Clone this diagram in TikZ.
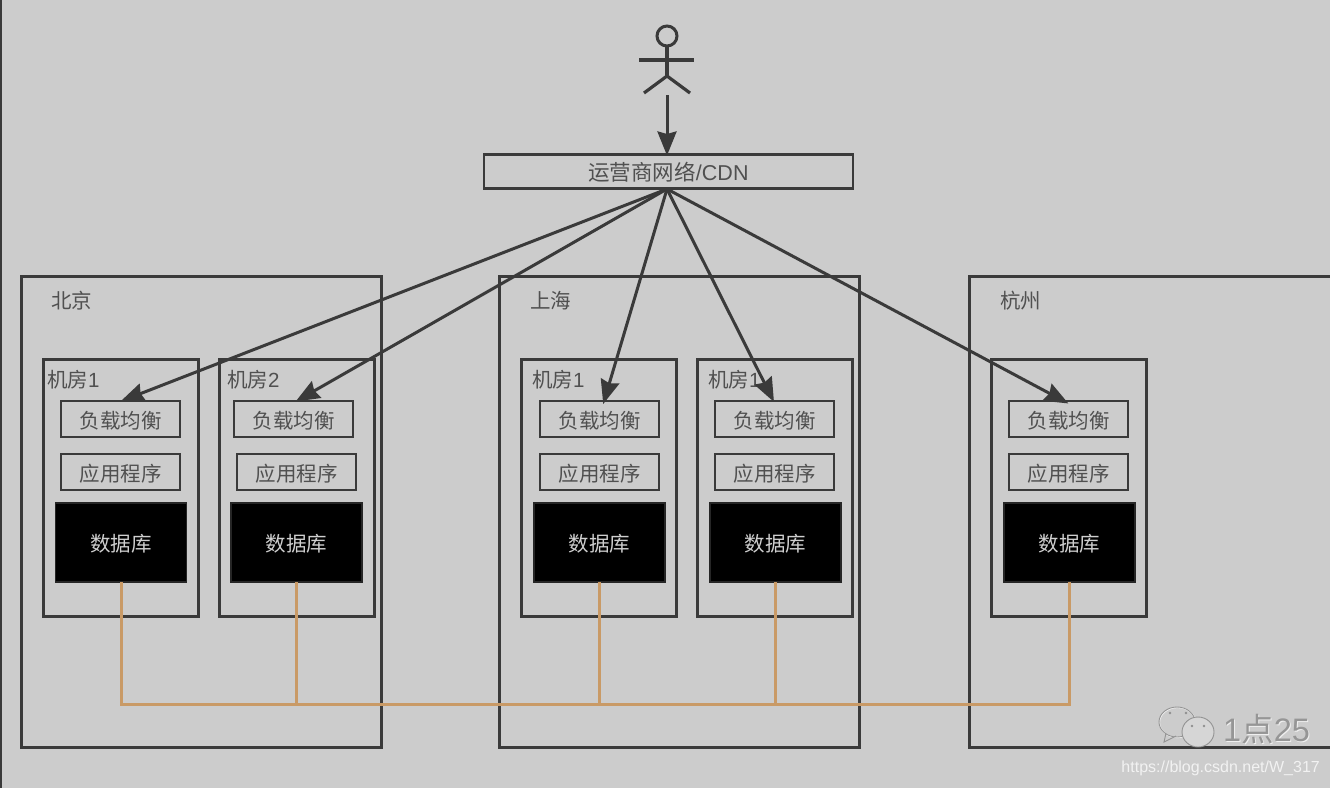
\documentclass[tikz,border=0pt]{standalone}
\usepackage{fontspec}
\setmainfont{Liberation Sans}
\newfontfamily\cjk{Noto Sans CJK SC}
\usetikzlibrary{arrows.meta}
\definecolor{bgc}{HTML}{CCCCCC}
\definecolor{linec}{HTML}{3A3A3A}
\definecolor{txtc}{HTML}{505050}
\definecolor{busc}{HTML}{C99A66}
\tikzset{
  x=1pt,y=-1pt,
  box/.style={draw=linec,line width=2.8pt,fill=none,inner sep=0pt,outer sep=0pt,anchor=north west,font=\fontsize{20.5}{20.5}\selectfont,text=txtc},
  region/.style={box},
  room/.style={box},
  svc/.style={box,align=center,text height=20pt,text depth=1.2pt},
  dbbox/.style={draw=black!85,line width=1.5pt,fill=black,inner sep=0pt,outer sep=0pt,anchor=north west,text=bgc!95!white,font=\fontsize{20.5}{20.5}\selectfont,text height=20pt,text depth=1.2pt},
  tag/.style={inner sep=0pt,anchor=west,text=txtc,font=\fontsize{20.5}{20.5}\selectfont},
  flow/.style={draw=linec,line width=3pt,-{Stealth[length=24pt,width=19pt,inset=2.5pt]},shorten >=-1pt},
  bus/.style={draw=busc,line width=3pt},
  stick/.style={draw=linec,line width=3.2pt}
}
\begin{document}
\begin{tikzpicture}
\useasboundingbox (0,0) rectangle (1330,788);
\fill[bgc] (0,0) rectangle (1330,788);
\draw[linec,line width=2pt] (0.5,0) -- (0.5,788);

% regions
\node[region,minimum width=360pt,minimum height=471pt] (bj) at (21.5,276.5) {};
\node[region,minimum width=360pt,minimum height=471pt] (sh) at (499.5,276.5) {};
\node[region,minimum width=362pt,minimum height=471pt] (hz) at (969.5,276.5) {};
\node[tag] (bjt) at (51,300.5) {\cjk 北京};
\node[tag] (sht) at (530,300.5) {\cjk 上海};
\node[tag] (hzt) at (1000,300.5) {\cjk 杭州};

% rooms
\node[room,minimum width=155pt,minimum height=257pt] (r1) at (43.5,359.5) {};
\node[room,minimum width=155pt,minimum height=257pt] (r2) at (219.5,359.5) {};
\node[room,minimum width=155pt,minimum height=257pt] (r3) at (521.5,359.5) {};
\node[room,minimum width=155pt,minimum height=257pt] (r4) at (697.5,359.5) {};
\node[room,minimum width=155pt,minimum height=257pt] (r5) at (991.5,359.5) {};
\node[tag] (r1t) at (47,380) {{\cjk 机房}1};
\node[tag] (r2t) at (227,380) {{\cjk 机房}2};
\node[tag] (r3t) at (532,380) {{\cjk 机房}1};
\node[tag] (r4t) at (708,380) {{\cjk 机房}1};

% load balancers
\node[svc,minimum width=119pt,minimum height=36pt] (lb1) at (61,401) {\cjk 负载均衡};
\node[svc,minimum width=119pt,minimum height=36pt] (lb2) at (234,401) {\cjk 负载均衡};
\node[svc,minimum width=119pt,minimum height=36pt] (lb3) at (540,401) {\cjk 负载均衡};
\node[svc,minimum width=119pt,minimum height=36pt] (lb4) at (715,401) {\cjk 负载均衡};
\node[svc,minimum width=119pt,minimum height=36pt] (lb5) at (1009,401) {\cjk 负载均衡};

% applications
\node[svc,minimum width=119pt,minimum height=36pt] (ap1) at (61,454) {\cjk 应用程序};
\node[svc,minimum width=119pt,minimum height=36pt] (ap2) at (237,454) {\cjk 应用程序};
\node[svc,minimum width=119pt,minimum height=36pt] (ap3) at (540,454) {\cjk 应用程序};
\node[svc,minimum width=119pt,minimum height=36pt] (ap4) at (715,454) {\cjk 应用程序};
\node[svc,minimum width=119pt,minimum height=36pt] (ap5) at (1009,454) {\cjk 应用程序};

% databases
\node[dbbox,minimum width=131pt,minimum height=79pt] (db1) at (55.5,503) {\cjk 数据库};
\node[dbbox,minimum width=131pt,minimum height=79pt] (db2) at (231,503) {\cjk 数据库};
\node[dbbox,minimum width=131pt,minimum height=79pt] (db3) at (534,503) {\cjk 数据库};
\node[dbbox,minimum width=131pt,minimum height=79pt] (db4) at (710,503) {\cjk 数据库};
\node[dbbox,minimum width=131pt,minimum height=79pt] (db5) at (1004,503) {\cjk 数据库};

% replication bus
\coordinate (busl) at (db1.south |- 0,704);
\coordinate (busr) at (db5.south |- 0,704);
\draw[bus] (db1.south) -- (busl) -- (busr) -- (db5.south);
\draw[bus] (db2.south) -- (db2.south |- busl);
\draw[bus] (db3.south) -- (db3.south |- busl);
\draw[bus] (db4.south) -- (db4.south |- busl);

% network
\node[box,minimum width=369pt,minimum height=34pt,font=\fontsize{21.5}{21.5}\selectfont,text height=20pt,text depth=1.2pt] (cdn) at (484,154.5) {{\cjk 运营商网络}/CDN};

% actor
\node[circle,draw=linec,line width=3pt,minimum size=20pt,inner sep=0pt,outer sep=0pt] (head) at (667,36) {};
\coordinate (hip) at (667,76);
\coordinate (armL) at (639,60);
\coordinate (armR) at (694,60);
\coordinate (legL) at (644,93);
\coordinate (legR) at (690,93);
\draw[stick] (head.south) -- (hip);
\draw[stick] (armL) -- (armR);
\draw[stick] (legL) -- (hip) -- (legR);
\coordinate (actorfoot) at (667,95);

% flows
\draw[flow] (actorfoot) -- (cdn.north -| actorfoot);
\coordinate (fan) at (667,189);
\draw[flow] (fan) -- ([xshift=1pt]lb1.north);
\draw[flow] (fan) -- ([xshift=3pt]lb2.north);
\draw[flow] (fan) -- ([xshift=4pt,yshift=-2pt]lb3.north);
\draw[flow] (fan) -- ([xshift=-1pt]lb4.north);
\draw[flow] (fan) -- ([xshift=-1pt,yshift=-2pt]lb5.north);

% watermark
\begin{scope}[draw=gray!75!bgc,line width=.9pt]
  \draw[draw=white!70!bgc,line width=1.2pt] (1177.5,722.5) ellipse [x radius=18pt,y radius=15pt];
  \draw (1177,722) ellipse [x radius=18pt,y radius=15pt];
  \draw (1166,733) -- (1164,742) -- (1176,736);
  \draw[fill=bgc!80!white] (1198,732) ellipse [x radius=16pt,y radius=15pt];
  \fill[gray!80!bgc] (1170,713) circle (1.3pt) (1186,713) circle (1.3pt) (1192,726) circle (1.3pt) (1204,726) circle (1.3pt);
\end{scope}
\node[inner sep=0pt,anchor=west,text=white!70!bgc,font=\fontsize{32.5}{32.5}\selectfont] (wmshadow) at (1224,730) {1{\cjk 点}25};
\node[inner sep=0pt,anchor=west,text=gray!70!bgc,font=\fontsize{32.5}{32.5}\selectfont] (wm) at (1223,729) {1{\cjk 点}25};
\node[inner sep=0pt,anchor=east,text=white!75!bgc,font=\fontsize{16}{16}\selectfont] (url) at (1320,768) {https://blog.csdn.net/W\_317};
\end{tikzpicture}
\end{document}
